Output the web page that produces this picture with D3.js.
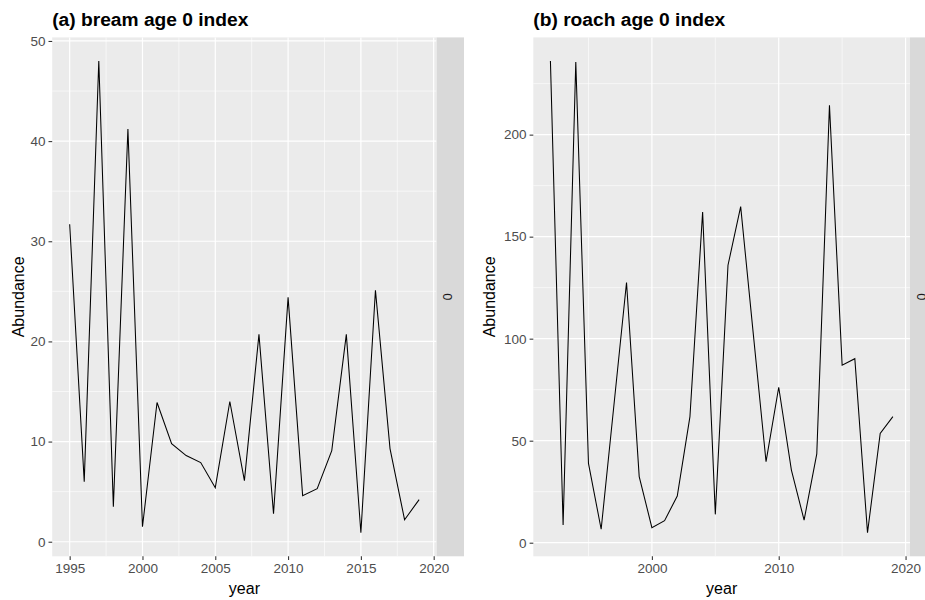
<!DOCTYPE html>
<html>
<head>
<meta charset="utf-8">
<script src="https://cdn.jsdelivr.net/npm/d3@7"></script>
<style>
  body { margin: 0; background: #ffffff; }
  svg { display: block; font-family: "Liberation Sans", Arial, sans-serif; }
</style>
</head>
<body>
<div id="maViz"></div>
<script>
// Données : indices age 0 (bream + roach)
const breamYears = [1995, 1996, 1997, 1998, 1999, 2000, 2001, 2002, 2003, 2004, 2005, 2006,
                    2007, 2008, 2009, 2010, 2011, 2012, 2013, 2014, 2015, 2016, 2017, 2018, 2019];
const breamValues = [31.7, 6.0, 48.0, 3.5, 41.2, 1.5, 13.9, 9.8, 8.6, 7.9, 5.4, 14.0,
                     6.1, 20.7, 2.8, 24.4, 4.6, 5.3, 9.1, 20.7, 0.9, 25.1, 9.3, 2.2, 4.2];

const roachYears = [1992, 1993, 1994, 1995, 1996, 1997, 1998, 1999, 2000, 2001, 2002, 2003, 2004, 2005,
                    2006, 2007, 2008, 2009, 2010, 2011, 2012, 2013, 2014, 2015, 2016, 2017, 2018, 2019];
const roachValues = [236.1, 8.7, 235.6, 38.9, 6.6, 67.0, 127.5, 32.4, 7.4, 10.8, 22.9, 61.8, 162.1, 13.9,
                     136.0, 164.7, 102.0, 39.7, 76.2, 35.6, 11.1, 43.5, 214.4, 87.0, 90.2, 4.9, 53.6, 61.8];

// ticks
const breamXTicks = [1995, 2000, 2005, 2010, 2015, 2020];
const breamXMinor = [1997.5, 2002.5, 2007.5, 2012.5, 2017.5];
const breamYTicks = [0, 10, 20, 30, 40, 50];
const breamYMinor = [5, 15, 25, 35, 45];

const roachXTicks = [2000, 2010, 2020];
const roachXMinor = [1995, 2005, 2015];
const roachYTicks = [0, 50, 100, 150, 200];
const roachYMinor = [25, 75, 125, 175, 225];

const titles = ["(a) bream age 0 index", "(b) roach age 0 index"];
const stripLabel = "0";

// couleurs ggplot
const panelBg = '#ebebeb';
const stripBg = '#d9d9d9';
const gridCol = '#ffffff';

const W = 925, H = 600;
const panelTop = 37.4, panelBottom = 556.3;

const svg = d3.select("#maViz")
  .append("svg")
    .attr("width", W)
    .attr("height", H);

// expansion 5% comme ggplot
function expand(ext) {
  const d = (ext[1] - ext[0]) * 0.05;
  return [ext[0] - d, ext[1] + d];
}

function drawPanel(p) {
  const g = svg.append("g");

  const x = d3.scaleLinear()
    .domain(expand(d3.extent(p.years)))
    .range([p.left, p.right]);
  const y = d3.scaleLinear()
    .domain(expand(d3.extent(p.values)))
    .range([panelBottom, panelTop]);

  // fond du panneau
  g.append("rect")
    .attr("x", p.left).attr("y", panelTop)
    .attr("width", p.right - p.left).attr("height", panelBottom - panelTop)
    .attr("fill", panelBg);

  // grille mineure
  g.append("g").selectAll("line").data(p.xMinor).join("line")
    .attr("x1", d => x(d)).attr("x2", d => x(d))
    .attr("y1", panelTop).attr("y2", panelBottom)
    .attr("stroke", gridCol).attr("stroke-width", 0.6);
  g.append("g").selectAll("line").data(p.yMinor).join("line")
    .attr("y1", d => y(d)).attr("y2", d => y(d))
    .attr("x1", p.left).attr("x2", p.right)
    .attr("stroke", gridCol).attr("stroke-width", 0.6);

  // grille majeure
  g.append("g").selectAll("line").data(p.xTicks).join("line")
    .attr("x1", d => x(d)).attr("x2", d => x(d))
    .attr("y1", panelTop).attr("y2", panelBottom)
    .attr("stroke", gridCol).attr("stroke-width", 1.2);
  g.append("g").selectAll("line").data(p.yTicks).join("line")
    .attr("y1", d => y(d)).attr("y2", d => y(d))
    .attr("x1", p.left).attr("x2", p.right)
    .attr("stroke", gridCol).attr("stroke-width", 1.2);

  // ligne
  const line = d3.line()
    .x((d, i) => x(p.years[i]))
    .y(d => y(d));
  g.append("path")
    .datum(p.values)
    .attr("d", line)
    .attr("fill", "none")
    .attr("stroke", "#000000")
    .attr("stroke-width", 1.05);

  // strip à droite
  g.append("rect")
    .attr("x", p.right).attr("y", panelTop)
    .attr("width", 27.4).attr("height", panelBottom - panelTop)
    .attr("fill", stripBg);
  g.append("text")
    .attr("transform", `translate(${p.right + 11},${(panelTop + panelBottom) / 2}) rotate(90)`)
    .attr("text-anchor", "middle")
    .attr("dy", "0.35em")
    .attr("fill", "#1a1a1a")
    .style("font-size", "12.8px")
    .text(stripLabel);

  // axes
  const xAxis = g.append("g")
    .attr("transform", `translate(0,${panelBottom})`)
    .call(d3.axisBottom(x).tickValues(p.xTicks).tickFormat(d3.format("d")).tickSizeInner(3.7).tickSizeOuter(0).tickPadding(3));
  const yAxis = g.append("g")
    .attr("transform", `translate(${p.left},0)`)
    .call(d3.axisLeft(y).tickValues(p.yTicks).tickFormat(d3.format("d")).tickSizeInner(3.7).tickSizeOuter(0).tickPadding(3));
  [xAxis, yAxis].forEach(a => {
    a.select(".domain").remove();
    a.selectAll(".tick line").attr("stroke", "#333333").attr("stroke-width", 1.07);
    a.selectAll(".tick text")
      .attr("fill", "#4d4d4d")
      .style("font-size", "13.5px")
      .style("font-family", "Liberation Sans, Arial, sans-serif");
  });

  // titres d'axes
  g.append("text")
    .attr("x", (p.left + p.right) / 2).attr("y", 593.5)
    .attr("text-anchor", "middle")
    .style("font-size", "16px")
    .text("year");
  g.append("text")
    .attr("transform", `translate(${p.yTitleX},${(panelTop + panelBottom) / 2}) rotate(-90)`)
    .attr("text-anchor", "middle")
    .style("font-size", "16px")
    .text("Abundance");

  // titre (gras)
  g.append("text")
    .attr("x", p.left).attr("y", 25.5)
    .style("font-size", "19.2px")
    .style("font-weight", "bold")
    .text(p.title);
}

drawPanel({
  years: breamYears, values: breamValues,
  xTicks: breamXTicks, xMinor: breamXMinor, yTicks: breamYTicks, yMinor: breamYMinor,
  left: 52.2, right: 436.6, yTitleX: 24, title: titles[0]
});

drawPanel({
  years: roachYears, values: roachValues,
  xTicks: roachXTicks, xMinor: roachXMinor, yTicks: roachYTicks, yMinor: roachYMinor,
  left: 533.3, right: 910, yTitleX: 495, title: titles[1]
});
</script>
</body>
</html>
